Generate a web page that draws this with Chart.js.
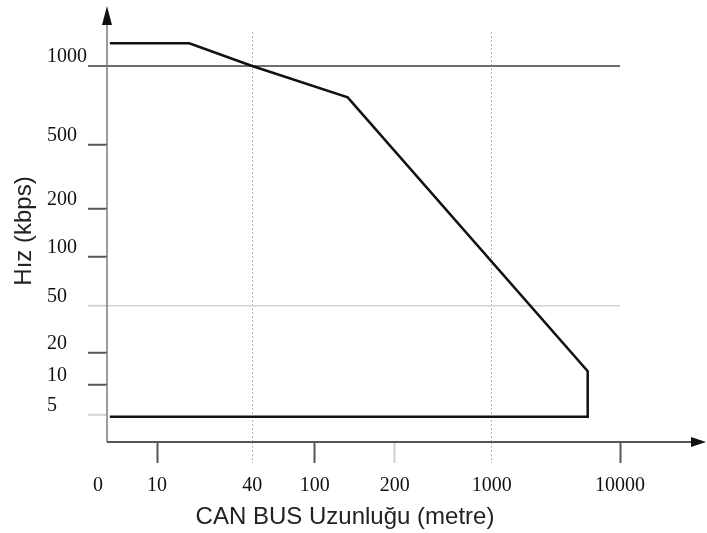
<!DOCTYPE html>
<html>
<head>
<meta charset="utf-8">
<title>CAN BUS hız / uzunluk</title>
<script src="https://cdn.jsdelivr.net/npm/chart.js@4.4.1/dist/chart.umd.min.js"></script>
<style>
    html, body { margin: 0; padding: 0; background: #fff; }
    #wrap { width: 707px; height: 533px; position: relative; }
</style>
</head>
<body>
<div id="wrap"><canvas id="canBusChart"></canvas></div>
<script>
// tick labels on each axis (the original axes are not evenly spaced)
const lengthTicks = [0, 10, 40, 100, 200, 1000, 10000];
const speedTicks = [5, 10, 20, 50, 100, 200, 500, 1000];

// outline of max bus speed against cable length
const lengthM = [2, 16, 40, 133, 5600, 5600, 2];
const speedKbps = [1220, 1220, 1000, 760, 13.5, 4.8, 4.8];

// where each tick sits along its axis (0 = start, 1 = end)
const axisStops = {
    x: [-0.0175, 0.0975, 0.283, 0.405, 0.561, 0.75, 1.0],
    y: [0.066, 0.139, 0.217, 0.332, 0.451, 0.568, 0.724, 0.917]
};
const axisValues = { x: lengthTicks, y: speedTicks };

// value -> 0..1 along the axis, log between ticks (linear from 0)
function toDecimal(value, values, stops) {
    let i = 0;
    while (i < values.length - 2 && value > values[i + 1]) i++;
    const v0 = values[i], v1 = values[i + 1];
    const t = v0 > 0
        ? Math.log(value / v0) / Math.log(v1 / v0)
        : (value - v0) / (v1 - v0);
    return stops[i] + t * (stops[i + 1] - stops[i]);
}

class StopScale extends Chart.LinearScale {
    static id = 'stops';
    buildTicks() {
        return axisValues[this.id].map(v => ({ value: v }));
    }
    getPixelForValue(value) {
        return this.getPixelForDecimal(toDecimal(value, axisValues[this.id], axisStops[this.id]));
    }
}
Chart.register(StopScale);

const tickVal = ctx => (ctx.tick ? ctx.tick.value : null);
const serif = { family: "'Liberation Serif', 'Times New Roman', serif", size: 20 };

// axis lines, arrow heads and axis titles
const axisDecor = {
    id: 'axisDecor',
    afterDraw(chart) {
        const { ctx, chartArea: a } = chart;
        ctx.save();
        ctx.strokeStyle = '#7a7a7a';
        ctx.lineWidth = 1.5;
        ctx.beginPath();
        ctx.moveTo(a.left, a.bottom);
        ctx.lineTo(a.left, 22);
        ctx.stroke();

        ctx.strokeStyle = '#555';
        ctx.lineWidth = 2;
        ctx.beginPath();
        ctx.moveTo(a.left, a.bottom);
        ctx.lineTo(694, a.bottom);
        ctx.stroke();

        ctx.fillStyle = '#111';
        ctx.beginPath();
        ctx.moveTo(a.left, 6);
        ctx.lineTo(a.left - 5, 25);
        ctx.lineTo(a.left + 5, 25);
        ctx.closePath();
        ctx.fill();
        ctx.beginPath();
        ctx.moveTo(706, a.bottom);
        ctx.lineTo(691, a.bottom - 5);
        ctx.lineTo(691, a.bottom + 5);
        ctx.closePath();
        ctx.fill();

        ctx.fillStyle = '#222';
        ctx.font = "24px 'Liberation Sans', Arial, sans-serif";
        ctx.textAlign = 'center';
        ctx.textBaseline = 'middle';
        ctx.fillText('CAN BUS Uzunluğu (metre)', 345, 517);
        ctx.translate(24, 231);
        ctx.rotate(-Math.PI / 2);
        ctx.fillText('Hız (kbps)', 0, 0);
        ctx.restore();
    }
};

new Chart(document.getElementById('canBusChart'), {
    type: 'line',
    data: {
        datasets: [{
            data: lengthM.map((m, i) => ({ x: m, y: speedKbps[i] })),
            borderColor: '#111',
            borderWidth: 2.5,
            borderJoinStyle: 'miter',
            pointRadius: 0,
            fill: false,
            tension: 0
        }]
    },
    options: {
        responsive: true,
        maintainAspectRatio: false,
        animation: false,
        events: [],
        layout: { padding: { left: 47, top: 32, right: 87, bottom: 0 } },
        plugins: { legend: { display: false }, tooltip: { enabled: false } },
        scales: {
            x: {
                type: 'stops',
                position: 'bottom',
                afterFit: s => { s.height = 91; },
                border: { display: false, dash: [2, 2] },
                grid: {
                    color: ctx => ([40, 1000].includes(tickVal(ctx)) ? '#b4b4b4' : 'rgba(0,0,0,0)'),
                    lineWidth: 1,
                    tickLength: 21,
                    tickWidth: ctx => ([40, 1000].includes(tickVal(ctx)) ? 1 : 2),
                    tickColor: ctx => {
                        const v = tickVal(ctx);
                        if (v === 0) return 'rgba(0,0,0,0)';
                        if (v === 40 || v === 1000) return '#b4b4b4';
                        if (v === 200) return '#cfcfcf';
                        return '#555';
                    },
                    tickBorderDash: ctx => ([40, 1000].includes(tickVal(ctx)) ? [2, 2] : [])
                },
                ticks: {
                    autoSkip: false,
                    maxRotation: 0,
                    minRotation: 0,
                    padding: 11,
                    color: '#111',
                    font: serif,
                    labelOffset: ctx => ({ 100: 4, 1000: 7, 10000: 11 }[tickVal(ctx)] || 0),
                    callback: v => String(v)
                }
            },
            y: {
                type: 'stops',
                position: 'left',
                afterFit: s => { s.width = 60; },
                border: { display: false },
                grid: {
                    color: ctx => {
                        const v = tickVal(ctx);
                        if (v === 1000) return '#6e6e6e';
                        if (v === 50) return '#d2d2d2';
                        return 'rgba(0,0,0,0)';
                    },
                    lineWidth: ctx => (tickVal(ctx) === 1000 ? 2 : 1.5),
                    tickLength: 19,
                    tickWidth: 2,
                    tickColor: ctx => {
                        const v = tickVal(ctx);
                        if (v === 5 || v === 50) return '#d2d2d2';
                        if (v === 1000) return '#6e6e6e';
                        return '#555';
                    }
                },
                ticks: {
                    autoSkip: false,
                    crossAlign: 'far',
                    padding: 0,
                    labelOffset: -9,
                    color: '#111',
                    font: serif,
                    callback: v => String(v)
                }
            }
        }
    },
    plugins: [axisDecor]
});
</script>
</body>
</html>
